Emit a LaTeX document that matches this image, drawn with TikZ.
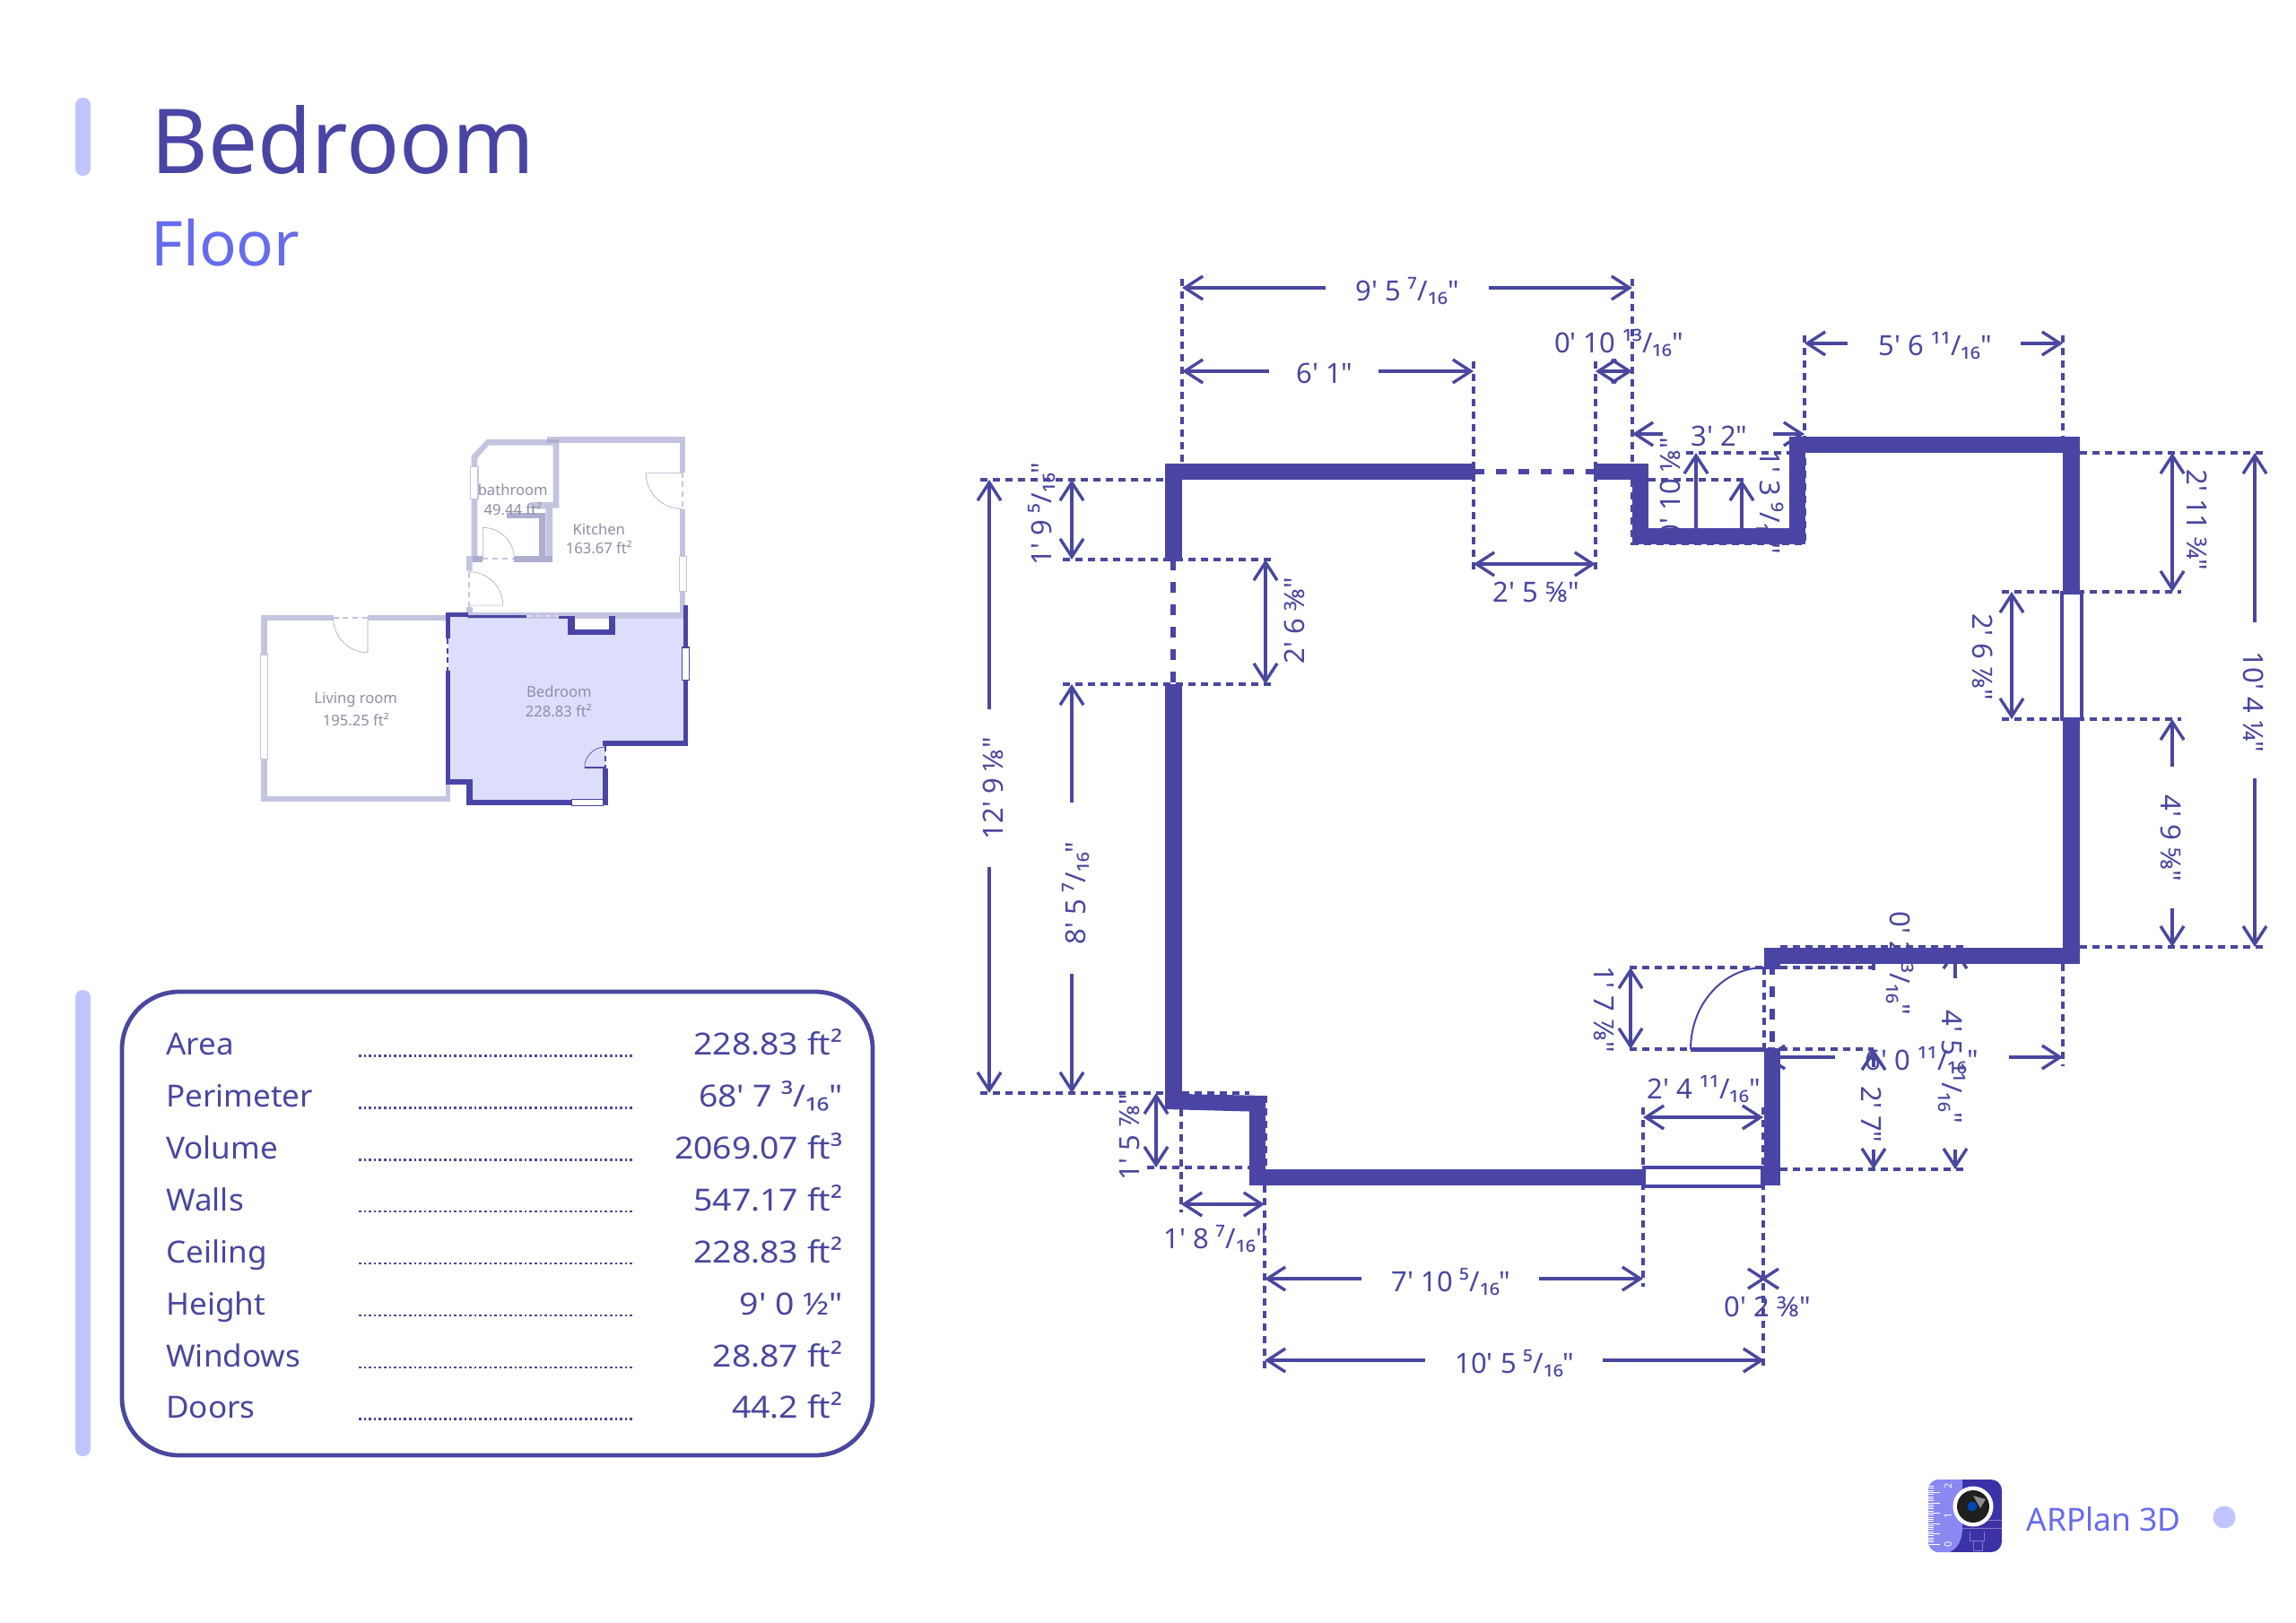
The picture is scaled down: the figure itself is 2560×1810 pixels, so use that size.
\documentclass[tikz,border=0pt]{standalone}
\usepackage{fontspec}
\setmainfont[Ligatures=TeXOff]{Noto Sans}
\usetikzlibrary{arrows.meta}
\definecolor{wallc}{HTML}{4A45A4}
\definecolor{inkc}{HTML}{4A479E}
\definecolor{accent}{HTML}{676CEE}
\definecolor{barc}{HTML}{C1C5FF}
\definecolor{pale}{HTML}{C3C5E0}
\definecolor{paled}{HTML}{ACADCF}
\definecolor{roomc}{HTML}{DCDEFB}
\definecolor{greyt}{HTML}{8E8EA3}
\definecolor{iconD}{HTML}{3C32A8}
\definecolor{iconL}{HTML}{8C88F2}
\tikzset{
  dimline/.style={draw=inkc,line width=1.7pt,>={Straight Barb[length=10pt,width=13pt,line width=1.7pt]}},
  extline/.style={draw=inkc,line width=1.6pt,dash pattern=on 4pt off 3pt},
  doorline/.style={draw=wallc,line width=3pt,dash pattern=on 6pt off 6.5pt},
  wallf/.style={fill=wallc,draw=none},
  winf/.style={fill=white,draw=wallc,line width=2.4pt},
  lab/.style={text=inkc,font=\fontsize{15.5}{18}\selectfont,inner sep=0pt},
  rowl/.style={text=inkc,font=\fontsize{17}{20}\selectfont,inner sep=0pt,anchor=base west,xscale=1.03,transform shape},
  rowr/.style={text=inkc,font=\fontsize{17}{20}\selectfont,inner sep=0pt,anchor=base east,xscale=1.1,transform shape},
  rowd/.style={draw=inkc,line width=1.3pt,dash pattern=on 1.3pt off 1.5pt},
  palew/.style={fill=pale,draw=none},
  darkw/.style={fill=wallc,draw=none},
  miniwin/.style={fill=white,line width=.6pt},
  minidoor/.style={line width=.9pt,dash pattern=on 3pt off 2.4pt},
  leaf/.style={draw=pale!85!black,line width=.3pt},
  roomt/.style={text=greyt,font=\fontsize{8.3}{10}\selectfont,inner sep=0pt,align=center},
  tick/.style={draw=white,line width=.45pt},
  icond/.style={text=white,font=\fontsize{5.5}{6}\selectfont\bfseries,inner sep=0pt,rotate=90}
}
\begin{document}
\begin{tikzpicture}[x=0.5pt,y=-0.5pt]
\useasboundingbox (0,0) rectangle (2560,1810);
\fill[white] (0,0) rectangle (2560,1810);

% ---------- header
\fill[barc,rounded corners=4pt] (84,109) rectangle (101,196);
\node (title) [text=wallc,font=\fontsize{50}{56}\selectfont,inner sep=0pt,anchor=base west,xscale=.98,transform shape] at (168,193) {Bedroom};
\node (subtitle) [text=accent,font=\fontsize{34.5}{40}\selectfont,inner sep=0pt,anchor=base west] at (168,296) {Floor};

% ---------- table
\fill[barc,rounded corners=4pt] (84,1104) rectangle (101,1624);
\draw[inkc,line width=2.4pt,rounded corners=32pt] (136,1106) rectangle (973,1623);
\foreach \yy/\na/\va [count=\i] in {
 1176.5/Area/{228.83 ft²},
 1234.5/Perimeter/{68' 7 ³/₁₆"},
 1292.5/Volume/{2069.07 ft³},
 1350/Walls/{547.17 ft²},
 1408/Ceiling/{228.83 ft²},
 1466/Height/{9' 0 ½"},
 1524/Windows/{28.87 ft²},
 1581.5/Doors/{44.2 ft²}}{
  \node (rowname\i) [rowl] at (185,\yy) {\na};
  \node (rowval\i) [rowr] at (940,\yy) {\va};
  \draw[rowd] (400,\yy+1) -- (707,\yy+1);
}

% ---------- mini plan (living room, kitchen, bathroom)
\begin{scope}[shift={(270,470)},x=0.1667pt,y=-0.1667pt]
 % bedroom fill
 \fill[roomc] (690,650) -- (1480,650) -- (1480,1075) -- (1215,1075) -- (1215,1275) -- (760,1275) -- (760,1210) -- (685,1210) -- cycle;
 \fill[white] (1112,655) rectangle (1228,695);
 % living room
 \fill[palew] (62,648) rectangle (305,666);
 \fill[palew] (420,648) rectangle (690,666);
 \fill[palew] (62,648) rectangle (85,1273);
 \fill[palew] (62,1253) rectangle (697,1273);
 \fill[palew] (680,1215) rectangle (697,1273);
 \draw[miniwin,draw=pale] (62,780) rectangle (85,1130);
 \draw[minidoor,draw=pale] (305,658) -- (420,658);
 \draw[leaf] (420,666) -- (420,773) arc[start angle=90,end angle=180,radius=115];
 % kitchen
 \fill[palew] (1020,52) rectangle (1483,72);
 \fill[palew] (1465,52) rectangle (1483,170);
 \fill[palew] (1465,295) rectangle (1483,650);
 \fill[palew] (750,640) rectangle (1475,660);
 \draw[miniwin,draw=pale] (1462,452) rectangle (1486,568);
 \draw[minidoor,draw=pale] (1473,170) -- (1473,295);
 \draw[leaf] (1470,172) -- (1350,172) arc[start angle=180,end angle=90,radius=120];
 % bathroom
 \fill[palew] (767,115) -- (818,60) -- (1060,60) -- (1060,290) -- (1038,290) -- (1038,470) -- (910,470) -- (910,450) -- (1015,450) -- (1015,292) -- (965,292) -- (965,270) -- (1040,270) -- (1040,80) -- (825,80) -- (787,122) -- (787,470) -- (770,470) -- (770,500) -- (750,500) -- (750,450) -- (767,450) -- cycle;
 \fill[paled] (885,305) rectangle (1013,325);
 \fill[paled] (993,305) rectangle (1013,470);
 \fill[paled] (910,450) rectangle (1038,470);
 \fill[paled] (770,450) rectangle (805,470);
 \fill[paled] (1020,60) rectangle (1060,72);
 \draw[miniwin,draw=pale] (763,152) rectangle (789,260);
 \draw[minidoor,draw=pale] (805,460) -- (910,460);
 \draw[leaf] (805,460) -- (805,355) arc[start angle=270,end angle=360,radius=105];
 \fill[palew] (750,620) rectangle (770,650);
 \draw[minidoor,draw=pale] (758,505) -- (758,620);
 \draw[leaf] (760,503) arc[start angle=270,end angle=360,radius=112] -- (760,615);
 % bedroom walls
 \fill[darkw] (680,640) rectangle (757,655);
 \fill[darkw] (757,648) rectangle (950,658);
 \fill[darkw] (1060,650) rectangle (1110,660);
 \draw[minidoor,draw=pale!60!white] (950,650) -- (1060,650);
 \fill[darkw] (1090,650) rectangle (1112,715);
 \fill[darkw] (1090,695) rectangle (1248,715);
 \fill[darkw] (1228,650) rectangle (1248,715);
 \fill[darkw] (1475,615) rectangle (1490,1085);
 \draw[miniwin,draw=wallc] (1470,756) rectangle (1494,866);
 \fill[darkw] (680,640) rectangle (697,725);
 \draw[minidoor,draw=wallc] (686,725) -- (686,835);
 \fill[darkw] (680,835) rectangle (697,1215);
 \fill[darkw] (680,1197) rectangle (770,1215);
 \fill[darkw] (750,1197) rectangle (770,1283);
 \fill[darkw] (750,1265) rectangle (1225,1283);
 \fill[darkw] (1207,1160) rectangle (1225,1283);
 \fill[darkw] (1207,1068) rectangle (1490,1085);
 \draw[miniwin,draw=wallc] (1102,1264) rectangle (1208,1285);
 \draw[minidoor,draw=wallc] (1215,1085) -- (1215,1160);
 \draw[wallc,line width=.7pt] (1145,1158) -- (1212,1158);
 \draw[wallc,line width=.3pt] (1145,1158) arc[start angle=180,end angle=270,radius=69];
 % room labels
 \node (bathname) [roomt] at (905,230) {bathroom};
 \node (batharea) [roomt] at (905,292) {49.44 ft²};
 \node (kitname) [roomt] at (1193,360) {Kitchen};
 \node (kitarea) [roomt] at (1193,422) {163.67 ft²};
 \node (bedname) [roomt] at (1060,903) {Bedroom};
 \node (bedarea) [roomt] at (1058,968) {228.83 ft²};
 \node (livname) [roomt] at (380,931) {Living room};
 \node (livarea) [roomt] at (380,998) {195.25 ft²};
\end{scope}

% ---------- extension lines
\draw[extline] (1318,311) -- (1318,517);
\draw[extline] (1820,311) -- (1820,517);
\draw[extline] (1643,403) -- (1643,639);
\draw[extline] (1779,403) -- (1779,639);
\draw[extline] (2012,374) -- (2012,487);
\draw[extline] (2300,374) -- (2300,487);
\draw[extline] (1093,535) -- (1299,535);
\draw[extline] (1838,535) -- (1945,535);
\draw[extline] (1880,505) -- (1995,505);
\draw[extline] (2319,505) -- (2525,505);
\draw[extline] (1185,624) -- (1422,624);
\draw[extline] (1185,763) -- (1422,763);
\draw[extline] (2232,660) -- (2432,660);
\draw[extline] (2232,802) -- (2432,802);
\draw[extline] (2319,1056) -- (2525,1056);
\draw[extline] (1985,1056) -- (2191,1056);
\draw[extline] (1817,1079) -- (2089,1079);
\draw[extline] (1817,1170) -- (2089,1170);
\draw[extline] (1967,1079) -- (1967,1170);
\draw[extline] (2300,1075) -- (2300,1189);
\draw[extline] (1985,1304) -- (2190,1304);
\draw[extline] (1832,1235) -- (1832,1435);
\draw[extline] (1966,1235) -- (1966,1527);
\draw[extline] (1093,1219) -- (1299,1219);
\draw[extline] (1318,1219) -- (1393,1219);
\draw[extline] (1279,1302) -- (1393,1302);
\draw[extline] (1317,1237) -- (1317,1352);
\draw[extline] (1411,1222) -- (1411,1303);
\draw[extline] (1410,1322) -- (1410,1527);
\draw[extline] (1820,535) -- (1820,606) -- (2012,606) -- (2012,505);

% ---------- dimension arrows
\draw[dimline,<-] (1318,321) -- (1478,321);
\draw[dimline,->] (1660,321) -- (1820,321);
\draw[dimline,<-] (1318,414) -- (1415,414);
\draw[dimline,->] (1537,414) -- (1643,414);
\draw[dimline,<->] (1779,414) -- (1820,414);
\draw[dimline,<->] (1643,629) -- (1779,629);
\draw[dimline,<-] (1820,484) -- (1854,484);
\draw[dimline,->] (1977,484) -- (2012,484);
\draw[dimline,<-] (2012,383) -- (2060,383);
\draw[dimline,->] (2253,383) -- (2300,383);
\draw[dimline,<-] (1891,505) -- (1891,589);
\draw[dimline,<-] (1942,535) -- (1942,589);
\draw[dimline,<->] (2422,505) -- (2422,660);
\draw[dimline,<->] (2243,660) -- (2243,802);
\draw[dimline,<-] (2422,802) -- (2422,855);
\draw[dimline,->] (2422,1013) -- (2422,1056);
\draw[dimline,<-] (2514,505) -- (2514,694);
\draw[dimline,->] (2514,868) -- (2514,1056);
\draw[dimline,<-] (1103,535) -- (1103,791);
\draw[dimline,->] (1103,967) -- (1103,1219);
\draw[dimline,<->] (1195,535) -- (1195,624);
\draw[dimline,<->] (1411,624) -- (1411,763);
\draw[dimline,<-] (1195,763) -- (1195,895);
\draw[dimline,->] (1195,1086) -- (1195,1219);
\draw[dimline,<->] (1289,1219) -- (1289,1302);
\draw[dimline,<->] (1317,1343) -- (1410,1343);
\draw[dimline,<-] (1410,1426) -- (1518,1426);
\draw[dimline,->] (1716,1426) -- (1832,1426);
\draw[dimline,<-] (1410,1517) -- (1589,1517);
\draw[dimline,->] (1787,1517) -- (1967,1517);
\draw[dimline,<->] (1832,1246) -- (1966,1246);
\draw[dimline] (1949,1415) -- (1983,1437) (1949,1437) -- (1983,1415);
\draw[dimline,<->] (1818,1079) -- (1818,1170);
\draw[dimline,<-] (2089,1170) -- (2089,1190);
\draw[dimline,->] (2089,1282) -- (2089,1304);
\draw[dimline,<-] (2180,1057) -- (2180,1091);
\draw[dimline,->] (2180,1282) -- (2180,1304);
\draw[dimline,line width=2pt] (2089,1057) -- (2089,1082);
\draw[dimline,<-] (1967,1179) -- (2046,1179);
\draw[dimline,->] (2240,1179) -- (2300,1179);

% ---------- dimension labels
\node (d01) [lab] at (1569,325) {9' 5 ⁷/₁₆"};
\node (d02) [lab] at (1477,416) {6' 1"};
\node (d03) [lab] at (1805,382) {0' 10 ¹³/₁₆"};
\node (d04) [lab] at (1713,660) {2' 5 ⅝"};
\node (d05) [lab] at (1917,486) {3' 2"};
\node (d06) [lab] at (2158,386) {5' 6 ¹¹/₁₆"};
\node (d07) [lab,rotate=90] at (1162,573) {1' 9 ⁵/₁₆"};
\node (d08) [lab,rotate=90] at (1443,692) {2' 6 ⅜"};
\node (d09) [lab,rotate=90] at (1107,879) {12' 9 ⅛"};
\node (d10) [lab,rotate=90] at (1200,996) {8' 5 ⁷/₁₆"};
\node (d11) [lab,rotate=90] at (1260,1268) {1' 5 ⅞"};
\node (d12) [lab] at (1355,1382) {1' 8 ⁷/₁₆"};
\node (d13) [lab] at (1618,1430) {7' 10 ⁵/₁₆"};
\node (d14) [lab] at (1689,1521) {10' 5 ⁵/₁₆"};
\node (d15) [lab] at (1900,1215) {2' 4 ¹¹/₁₆"};
\node (d16) [lab] at (1971,1457) {0' 2 ⅜"};
\node (d17) [lab,rotate=-90] at (1788,1126) {1' 7 ⅞"};
\node (d18) [lab,rotate=-90] at (2119,1074) {0' 2 ³/₁₆"};
\node (d19) [lab,rotate=-90] at (2176,1190) {4' 5 ¹¹/₁₆"};
\node (d20) [lab,rotate=-90] at (2087,1243) {2' 7"};
\node (d21) [lab] at (2143,1183) {6' 0 ¹¹/₁₆"};
\node (d22) [lab,rotate=-90] at (2450,580) {2' 11 ¾"};
\node (d23) [lab,rotate=-90] at (2211,733) {2' 6 ⅞"};
\node (d24) [lab,rotate=-90] at (2421,935) {4' 9 ⅝"};
\node (d25) [lab,rotate=-90] at (2513,783) {10' 4 ¼"};
\node (d26) [lab,rotate=90] at (1862,545) {0' 10 ⅛"};
\node (d27) [lab,rotate=-90] at (1974,560) {1' 3 ⁹/₁₆"};

% ---------- walls
\fill[wallf] (1299,517) rectangle (1643,535);
\fill[wallf] (1779,517) rectangle (1838,535);
\fill[wallf] (1820,517) rectangle (1838,607);
\fill[wallf] (1820,589) rectangle (2013,607);
\fill[wallf] (1995,487) rectangle (2013,607);
\fill[wallf] (1995,487) rectangle (2319,505);
\fill[wallf] (2300,487) rectangle (2319,660);
\fill[wallf] (2300,802) rectangle (2319,1075);
\fill[wallf] (1967,1057) rectangle (2319,1075);
\fill[wallf] (1967,1057) rectangle (1985,1081);
\fill[wallf] (1967,1169) rectangle (1985,1322);
\fill[wallf] (1393,1304) rectangle (1835,1322);
\fill[wallf] (1963,1302) rectangle (1985,1322);
\fill[wallf] (1393,1222) rectangle (1411,1322);
\fill[wallf] (1299,517) rectangle (1318,624);
\fill[wallf] (1299,763) rectangle (1318,1237);
\fill[wallf] (1299,1219) -- (1318,1220) -- (1411,1222) -- (1411,1240) -- (1299,1237) -- cycle;
% door openings
\draw[doorline] (1643,526) -- (1779,526);
\draw[doorline] (1308,624) -- (1308,763);
\draw[doorline] (1976,1075) -- (1976,1169);
% door leaf
\draw[wallc,line width=2.5pt] (1885,1170) -- (1967,1170);
\draw[wallc,line width=1pt] (1885,1170) arc[start angle=180,end angle=270,x radius=82,y radius=91];
% windows
\draw[winf] (2299,661) rectangle (2321,802);
\draw[winf] (1833,1302) rectangle (1965,1323);

% ---------- logo
\begin{scope}
 \clip[rounded corners=6pt] (2150,1650) rectangle (2232,1731);
 \fill[iconD] (2150,1650) rectangle (2232,1731);
 \fill[iconL] (2150,1650) -- (2188,1650) -- (2188,1703) .. controls (2188,1718) and (2183,1726) .. (2174,1731) -- (2150,1731) -- cycle;
 \foreach \k in {0,...,28}{
   \pgfmathsetmacro\tl{mod(\k,5)==0 ? 13 : 6}
   \draw[tick] (2150,1722-\k*2.3) -- ++(\tl,0);
 }
 \draw[white!35!iconD,line width=.25pt] (2188,1704) -- (2232,1704) (2196,1708) -- (2196,1718) -- (2212,1718) -- (2212,1708) (2200,1718) -- (2200,1729) -- (2210,1729) -- (2210,1718) (2215,1695) -- (2232,1695);
\end{scope}
\node (icon2) [icond] at (2172,1657) {2};
\node (icon1) [icond] at (2172,1690) {1};
\node (icon0) [icond] at (2172,1722) {0};
\fill[white] (2200,1680) circle[radius=22.5];
\fill[black!88] (2200,1680) circle[radius=18];
\fill[black!45] (2200,1668) -- (2214,1672) -- (2208,1682) -- cycle;
\fill[blue!60!cyan!70!black] (2199,1680) circle[radius=5.5];
\node (brand) [text=accent,font=\fontsize{17.7}{20}\selectfont,inner sep=0pt,anchor=base west] at (2259,1707) {ARPlan 3D};
\fill[barc] (2480,1692) circle[radius=12.5];
\end{tikzpicture}
\end{document}
